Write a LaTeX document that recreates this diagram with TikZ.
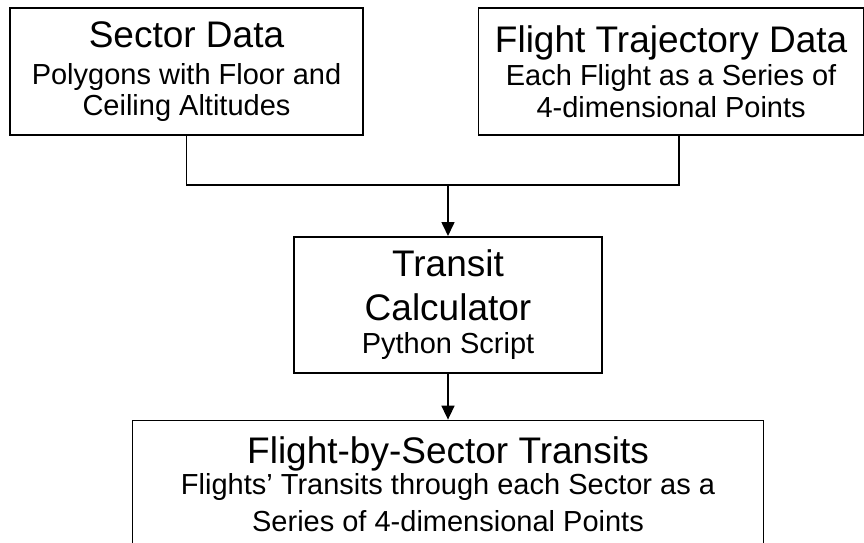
\documentclass[tikz,border=0pt]{standalone}
\usepackage{fontspec}
\setmainfont{Liberation Sans}
\usetikzlibrary{positioning, arrows.meta}

\newcommand{\boxtitle}{\fontsize{37}{44}\selectfont}
\newcommand{\boxsub}{\fontsize{29}{31}\selectfont}

\begin{document}
\begin{tikzpicture}[x=1pt, y=-1pt, auto,
    stage/.style={rectangle, draw, line width=1.6pt, align=center, inner sep=0pt, font=\boxsub},
    flow/.style={line width=1.6pt, -{Triangle[width=13pt, length=14pt]}},
    link/.style={line width=1.6pt}]
    \clip (0,0) rectangle (864,542);
    \node (sector) [stage, minimum width=353pt, minimum height=127pt] at (186.5,71.5)
        {\boxtitle Sector Data\\[6pt] Polygons with Floor and\\ Ceiling Altitudes};
    \node (trajectory) [stage, minimum width=385pt, minimum height=127pt, right=114pt of sector]
        {\boxtitle Flight Trajectory Data\\[2pt] Each Flight as a Series of\\[1pt] 4-dimensional Points};
    \coordinate (join) at (448,185);
    \node (calc) [stage, minimum width=308pt, minimum height=136pt, below=51pt of join]
        {\boxtitle Transit\\[13pt] \boxtitle Calculator\\[2pt] Python Script};
    \node (transits) [stage, minimum width=631pt, minimum height=128pt, below=46pt of calc]
        {\boxtitle Flight-by-Sector Transits\\[0pt] Flights' Transits through each Sector as a\\[6pt] Series of 4-dimensional Points};

    \draw[link] (sector.south) |- (join);
    \draw[link] ([xshift=8pt]trajectory.south) |- (join);
    \draw[flow] (join) -- (calc.north);
    \draw[flow] (calc) -- (transits);
\end{tikzpicture}
\end{document}
